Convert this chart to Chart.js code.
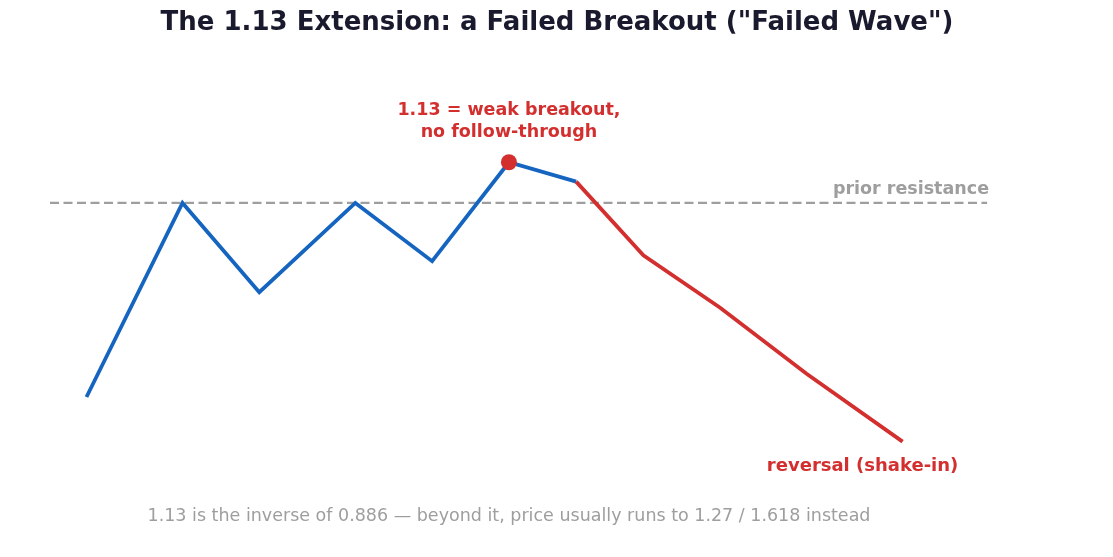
<!DOCTYPE html>
<html>
<head>
<meta charset="utf-8">
<script src="https://cdn.jsdelivr.net/npm/chart.js@4"></script>
<style>
  body { margin: 0; background: #fff; }
  #wrap { width: 1113px; height: 557px; }
</style>
</head>
<body>
<div id="wrap"><canvas id="waveChart"></canvas></div>
<script>
// wave path (x = time steps, y = relative price; resistance = 1)
const stepsX = [0, 1, 1.8, 2.8, 3.6, 4.4, 5.1, 5.8, 6.6, 7.5, 8.5];
const priceY = [0, 1, 0.54, 1, 0.7, 1.21, 1.11, 0.73, 0.46, 0.12, -0.23];
const rallyEnd = 6;      // index where the blue part ends and the reversal starts
const breakoutIdx = 5;   // the 1.13 point
const resistance = 1;
const resistanceSpan = [-0.38, 9.38];

const texts = {
  title: 'The 1.13 Extension: a Failed Breakout ("Failed Wave")',
  peak: ["1.13 = weak breakout,", "no follow-through"],
  resistance: "prior resistance",
  reversal: "reversal (shake-in)",
  note: "1.13 is the inverse of 0.886 \u2014 beyond it, price usually runs to 1.27 / 1.618 instead"
};

const BLUE = "#1565c0";
const RED = "#d32f2f";
const GRAY = "#9e9e9e";
const FONT = "'DejaVu Sans', sans-serif";

const pts = stepsX.map((x, i) => ({ x: x, y: priceY[i] }));

const labelPlugin = {
  id: "labels",
  afterDraw(chart) {
    const ctx = chart.ctx;
    const xs = chart.scales.x, ys = chart.scales.y;
    ctx.save();
    ctx.textBaseline = "middle";

    // title
    ctx.textAlign = "center";
    ctx.fillStyle = "#1a1a2e";
    ctx.font = "bold 26px " + FONT;
    ctx.fillText(texts.title, 557, 23);

    // breakout label
    const px = xs.getPixelForValue(stepsX[breakoutIdx]);
    const py = ys.getPixelForValue(priceY[breakoutIdx]);
    ctx.fillStyle = RED;
    ctx.font = "bold 17.5px " + FONT;
    ctx.fillText(texts.peak[0], px, py - 52);
    ctx.fillText(texts.peak[1], px, py - 30);

    // reversal label
    const last = stepsX.length - 1;
    ctx.font = "bold 18px " + FONT;
    ctx.fillText(texts.reversal, xs.getPixelForValue(stepsX[last]) - 40,
      ys.getPixelForValue(priceY[last]) + 25);

    // resistance label
    ctx.textAlign = "right";
    ctx.fillStyle = GRAY;
    ctx.font = "bold 17.5px " + FONT;
    ctx.fillText(texts.resistance, chart.chartArea.right, ys.getPixelForValue(resistance) - 14);

    // footnote
    ctx.textAlign = "center";
    ctx.font = "17.5px " + FONT;
    ctx.fillText(texts.note, 509, 516);
    ctx.restore();
  }
};

new Chart(document.getElementById("waveChart"), {
  type: "line",
  data: {
    datasets: [
      {
        data: [pts[breakoutIdx]],
        showLine: false,
        pointRadius: 8,
        pointBackgroundColor: RED,
        pointBorderWidth: 0
      },
      {
        data: pts.slice(rallyEnd),
        borderColor: RED,
        borderWidth: 3.8,
        pointRadius: 0
      },
      {
        data: pts.slice(0, rallyEnd + 1),
        borderColor: BLUE,
        borderWidth: 3.8,
        pointRadius: 0
      },
      {
        data: resistanceSpan.map(x => ({ x: x, y: resistance })),
        borderColor: GRAY,
        borderWidth: 2.2,
        borderDash: [9, 4.5],
        pointRadius: 0
      }
    ]
  },
  options: {
    responsive: true,
    maintainAspectRatio: false,
    animation: false,
    layout: { padding: { left: 50, right: 124, top: 60, bottom: 77 } },
    plugins: {
      legend: { display: false },
      tooltip: { enabled: false },
      title: { display: false }
    },
    scales: {
      x: { type: "linear", min: -0.38, max: 9.4, display: false },
      y: { min: -0.428, max: 1.737, display: false }
    }
  },
  plugins: [labelPlugin]
});
</script>
</body>
</html>
